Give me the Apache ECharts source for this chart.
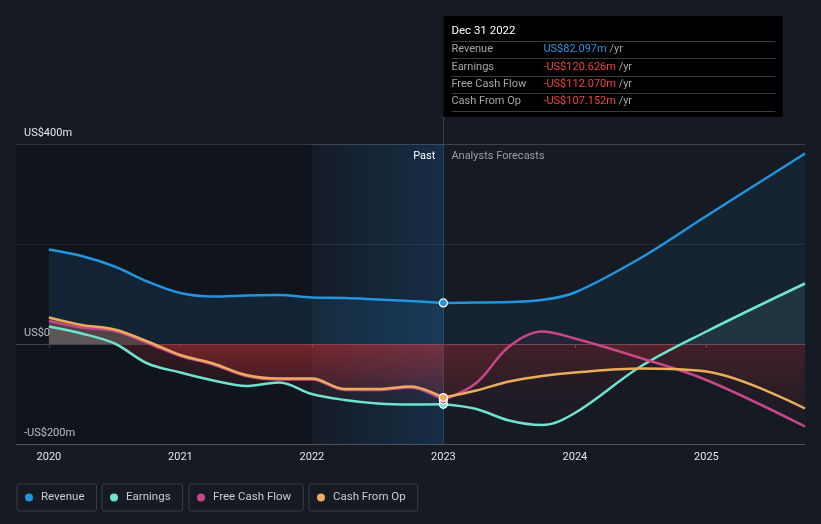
<!DOCTYPE html>
<html><head><meta charset="utf-8">
<script src="https://cdn.jsdelivr.net/npm/echarts@6/dist/echarts.min.js"></script>
<style>html,body{margin:0;padding:0;background:#151a23;}#c{width:821px;height:524px;}</style>
</head><body><div id="c"></div>
<script>
// ---- data ----
const pastDates = [2020, 2020.25, 2020.5, 2020.75, 2021, 2021.25, 2021.5, 2021.75, 2022, 2022.25, 2022.5, 2022.75, 2023];
const pastRevenue  = [189, 176, 155, 125, 102, 95, 97, 98, 93, 92, 89, 86, 82.097];
const pastEarnings = [35, 21, 1, -39, -57, -73, -84, -77, -100, -112, -119, -121, -120.626];
const pastFCF      = [46, 33, 26, 2, -24, -41, -64, -71, -71, -92, -92, -87, -112.070];
const pastCFO      = [53, 38, 29, 5, -22, -39, -62, -69, -69, -90, -90, -85, -107.152];

const forecastDates    = [2023, 2023.25, 2023.5, 2023.75, 2024, 2024.5, 2025, 2025.75];
const forecastRevenue  = [82.097, 83, 84, 88, 103, 172, 256, 381];
const forecastEarnings = [-120.626, -130, -153, -162, -138, -45, 25, 121];
const forecastFCF      = [-112.070, -78, -5, 25, 11, -28, -72, -165];
const forecastCFO      = [-107.152, -93, -75, -64, -57, -49, -55, -129];

const seriesNames = ['Revenue', 'Earnings', 'Free Cash Flow', 'Cash From Op'];
const xTickValues = [2020, 2021, 2022, 2023, 2024, 2025];
const yLabelValues = [-200, 0, 400];
const tooltipDate = 'Dec 31 2022';

// ---- styling ----
const colors = ['#2394df', '#6fe3d0', '#c8478a', '#e9ad5c'];
const RED = [224, 53, 59];
function hexRgb(h){ return [parseInt(h.substr(1,2),16), parseInt(h.substr(3,2),16), parseInt(h.substr(5,2),16)]; }
function rgba(c, a){ return 'rgba(' + c[0] + ',' + c[1] + ',' + c[2] + ',' + a + ')'; }
function areaFill(values, color, posA, negTop, negBot){
  const mx = Math.max(0, ...values), mn = Math.min(0, ...values);
  const z = (mx - mn) === 0 ? 0 : mx / (mx - mn);
  const pc = hexRgb(color);
  return new echarts.graphic.LinearGradient(0, 0, 0, 1, [
    {offset: 0, color: rgba(pc, posA)},
    {offset: z, color: rgba(pc, posA)},
    {offset: z, color: rgba(RED, negTop)},
    {offset: 1, color: rgba(RED, negBot)}
  ]);
}
function fmtMoney(v){ return (v < 0 ? '-' : '') + 'US$' + Math.abs(v).toFixed(3) + 'm'; }

const pastVals = [pastRevenue, pastEarnings, pastFCF, pastCFO];
const foreVals = [forecastRevenue, forecastEarnings, forecastFCF, forecastCFO];
const posAlphaPast = [0.18, 0.22, 0.22, 0.28];
const posAlphaFore = [0.10, 0.14, 0.10, 0.12];

const series = [{
  name: '__bg', type: 'line', data: [], z: 1, silent: true,
  markArea: {
    silent: true,
    data: [
      [{xAxis: 2019.75, itemStyle: {color: 'rgba(0,0,0,0.2)'}}, {xAxis: 2022}],
      [{xAxis: 2022, itemStyle: {color: new echarts.graphic.LinearGradient(0,0,1,0,[
        {offset: 0, color: 'rgba(25,115,195,0.02)'}, {offset: 1, color: 'rgba(25,115,195,0.22)'}])}}, {xAxis: 2023}]
    ]
  }
}];

// forecast series first (so the past dots sit on top)
seriesNames.forEach((n, i) => {
  series.push({
    name: n, type: 'line', z: 2, silent: true, smooth: 0.35, symbol: 'none',
    data: forecastDates.map((d, k) => [d, foreVals[i][k]]),
    lineStyle: {color: colors[i], width: 2.5},
    itemStyle: {color: colors[i]},
    areaStyle: {origin: 0, color: areaFill(foreVals[i], colors[i], posAlphaFore[i], 0.16, 0.04)},
    emphasis: {disabled: true}
  });
});
seriesNames.forEach((n, i) => {
  const data = pastDates.map((d, k) => [d, pastVals[i][k]]);
  const last = data.length - 1;
  data[last] = {value: data[last], symbol: 'circle', symbolSize: 8,
    itemStyle: {color: colors[i], borderColor: '#ffffff', borderWidth: 1.2}};
  series.push({
    name: n, type: 'line', z: 2, silent: true, smooth: 0.35, symbol: 'none',
    data: data,
    lineStyle: {color: colors[i], width: 2.5},
    itemStyle: {color: colors[i]},
    areaStyle: {origin: 0, color: areaFill(pastVals[i], colors[i], posAlphaPast[i], 0.27, 0.06)},
    emphasis: {disabled: true}
  });
});

const legendLefts = [17, 102, 189, 309];
const legends = seriesNames.map((n, i) => ({
  data: [{name: n, icon: 'circle'}],
  left: legendLefts[i], top: 484, orient: 'horizontal',
  borderColor: '#3a414d', borderWidth: 1, borderRadius: 2,
  padding: [7, 12, 7, 8], itemWidth: 14, itemHeight: 8,
  selectedMode: false,
  textStyle: {color: '#c9cdd3', fontSize: 11.5, fontFamily: 'Roboto', lineHeight: 13}
}));

const chart = echarts.init(document.getElementById('c'), null, {renderer: 'canvas'});
chart.setOption({
  backgroundColor: '#151a23',
  animation: false,
  textStyle: {fontFamily: 'Roboto'},
  grid: {left: 16, right: 16, top: 144, bottom: 80, containLabel: false},
  legend: legends,
  xAxis: {
    type: 'value', min: 2019.75, max: 2025.75,
    axisLine: {show: true, lineStyle: {color: '#4c535e', width: 1}},
    axisTick: {show: true, customValues: xTickValues, length: 4, lineStyle: {color: '#4c535e'}},
    axisLabel: {customValues: xTickValues, color: '#e4e6ea', fontSize: 11, margin: 8,
      formatter: v => String(Math.round(v))},
    splitLine: {show: false}
  },
  yAxis: {
    type: 'value', min: -200, max: 400, interval: 200,
    axisLine: {show: false}, axisTick: {show: false},
    axisLabel: {customValues: yLabelValues, inside: true, margin: 8, color: '#e4e6ea', fontSize: 11,
      verticalAlign: 'bottom', padding: [0, 0, 5, 0],
      formatter: v => v < 0 ? '-US$' + Math.abs(v) + 'm' : (v === 0 ? 'US$0' : 'US$' + v + 'm')},
    splitLine: {show: true, lineStyle: {color: ['#4c535e', '#f2f2f2', '#272d37', '#3d444f'], width: 1}}
  },
  series: series
});

// overlay: divider, labels and tooltip panel, positioned from the axis scale
const lx = chart.convertToPixel({xAxisIndex: 0}, 2023);
const yTop = chart.convertToPixel({yAxisIndex: 0}, 400);
const yBot = chart.convertToPixel({yAxisIndex: 0}, -200);
const boxX = Math.round(lx) + 0.5;
const rowNames = seriesNames;
const rowVals = [pastRevenue, pastEarnings, pastFCF, pastCFO].map(a => a[a.length - 1]);
const rowY = [49.5, 67, 84.5, 101.5];
const sepY = [41.5, 58.5, 76.5, 93.5, 111.5];
const g = [
  {type: 'line', z: 1, silent: true, shape: {x1: boxX, y1: 117, x2: boxX, y2: yBot},
    style: {stroke: '#2f4358', lineWidth: 1}},
  {type: 'text', z: 5, silent: true, x: lx - 8, y: yTop + 12,
    style: {text: 'Past', fill: '#ffffff', fontSize: 11, fontFamily: 'Roboto', align: 'right', verticalAlign: 'middle'}},
  {type: 'text', z: 5, silent: true, x: lx + 8, y: yTop + 12,
    style: {text: 'Analysts Forecasts', fill: '#9a9fa7', fontSize: 11, fontFamily: 'Roboto', align: 'left', verticalAlign: 'middle'}},
  {type: 'rect', z: 10, silent: true, shape: {x: boxX, y: 16, width: 339, height: 101},
    style: {fill: '#000000'}},
  {type: 'text', z: 11, silent: true, x: lx + 8, y: 31,
    style: {text: tooltipDate, fill: '#ffffff', fontSize: 11.5, fontWeight: 'normal', fontFamily: 'Roboto', verticalAlign: 'middle'}}
];
sepY.forEach(y => g.push({type: 'line', z: 11, silent: true,
  shape: {x1: lx + 8, y1: y, x2: lx + 332, y2: y}, style: {stroke: '#3b3b3b', lineWidth: 1}}));
rowNames.forEach((n, i) => {
  g.push({type: 'text', z: 11, silent: true, x: lx + 8, y: rowY[i],
    style: {text: n, fill: '#a3a6ab', fontSize: 11, fontFamily: 'Roboto', verticalAlign: 'middle'}});
  const v = rowVals[i];
  g.push({type: 'text', z: 11, silent: true, x: lx + 100, y: rowY[i],
    style: {text: '{v|' + fmtMoney(v) + '} {u|/yr}', fontSize: 11, fontFamily: 'Roboto', verticalAlign: 'middle',
      rich: {v: {fill: v < 0 ? '#f0413f' : '#2394df', fontSize: 11, fontFamily: 'Roboto'},
             u: {fill: '#a3a6ab', fontSize: 11, fontFamily: 'Roboto'}}}});
});
chart.setOption({graphic: g});
</script>
</body></html>
